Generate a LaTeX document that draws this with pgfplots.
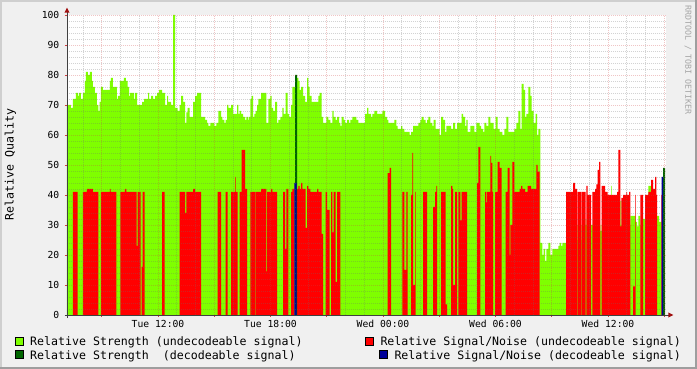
\documentclass[border=0pt]{standalone}
\usepackage{pgfplots}
\pgfplotsset{compat=1.18}
\usepackage{fontspec}
\setmainfont{DejaVu Sans Mono}
\definecolor{bg}{HTML}{F0F0F0}
\definecolor{shadea}{HTML}{CFCFCF}
\definecolor{shadeb}{HTML}{9E9E9E}
\definecolor{lgreen}{HTML}{7FFF00}
\definecolor{dgreen}{HTML}{006600}
\definecolor{dblue}{HTML}{000099}
\definecolor{axiscol}{HTML}{404040}
\definecolor{arrowcol}{HTML}{A01010}
\definecolor{mgridcol}{HTML}{D04040}
\definecolor{gridcol}{HTML}{707070}
\begin{document}
\begin{tikzpicture}
% canvas background
\fill[bg] (-67bp,-54bp) rectangle (630bp,315bp);
\fill[shadea] (-67bp,313bp) rectangle (630bp,315bp);
\fill[shadea] (-67bp,-54bp) rectangle (-65bp,315bp);
\fill[shadeb] (-67bp,-54bp) rectangle (630bp,-52bp);
\fill[shadeb] (628bp,-54bp) rectangle (630bp,315bp);
\fill[white] (0,0) rectangle (599bp,300bp);
\begin{axis}[
  scale only axis, width=599bp, height=300bp,
  at={(0,0)}, anchor=south west,
  xmin=0, xmax=599, ymin=0, ymax=100,
  axis line style={draw=none},
  axis on top,
  /pgf/number format/assume math mode=true,
  xtick={34.75,91,147.25,203.5,259.75,316,372.25,428.5,484.75,541,597.25},
  xticklabels={,Tue 12:00,,Tue 18:00,,Wed 00:00,,Wed 06:00,,Wed 12:00,},
  minor xtick={16,53.5,72.25,109.75,128.5,166,184.75,222.25,241,278.5,297.25,334.75,353.5,391,409.75,447.25,466,503.5,522.25,559.75,578.5},
  ytick={0,10,...,100},
  minor y tick num=4,
  grid=both,
  major grid style={draw=mgridcol, draw opacity=0.3, dash pattern=on 1bp off 1bp, line width=0.8bp},
  minor grid style={draw=gridcol, draw opacity=0.3, dash pattern=on 1bp off 1bp, line width=0.8bp},
  tick style={draw=mgridcol, line width=0.9bp},
  major tick length=2bp, minor tick length=0pt,
  tick align=outside, xtick pos=bottom, ytick pos=left,
  tick label style={font=\fontsize{9.7bp}{10bp}\selectfont, inner sep=0pt},
  yticklabel style={anchor=base east, xshift=-5.5bp, yshift=-3.5bp},
  xticklabel style={anchor=base, yshift=-10.5bp},
]
% Relative Strength (undecodeable signal)
\addplot[const plot, fill=lgreen, draw=none] table {
x y
0 70
4 69
6 72
9 74
11 73
12 74
14 72
16 74
18 78
19 81
21 80
23 81
25 78
26 76
28 74
30 70
31.3 68
32.7 71
34 76
36 75
43 78
44 79
46 76
50 72
51 73
53 78
57 79
59 78
60.7 76
62 73
63 74
67 72
68 74
70 70
75 71
77 72
81 74
82 72
84 73
86 72
88 73
90 74
92 75
95 74
98 70
100 73
101 71
104 70
106 100
108 69
110.7 68
112.7 70
114 73
116 71
118 64
119.3 67.5
120.7 69
122.7 66
126 71
128 73
130 74
134 66
138 65
140 64
141.3 63
143.3 64
147.3 63
149.3 64
151.3 68
154 66
155.3 65
157.3 64
158.7 65
160 70
161.3 69
164 70
166 67
170 70
171.3 67
172.7 68
174 67
176 66
178 65
179.3 66
181.3 65
182 66
183.3 72
184.7 73
186 66
187.3 67
188.7 68
190 70
191.3 72
194 74
199.3 64
201.3 72
203.3 73
204.7 69
206 68
208 71
210 64
211.3 65
213.3 66
215.3 69
216.7 67
218.7 74
220.7 67
222 66
224 70
225.3 76
228 0
230 79
231.3 78
232.7 75
234 76
236 73
238 71
240 79
241.3 76
242.7 73
244.7 71
251.3 73
252.7 74
254.7 66
256 64
259.3 66
261.3 65
263.3 64
265.3 68
266.7 66
268.7 65
270 66
272 64
273.3 63
274.7 66
276.7 65
278 64
280 65
282 64
283.3 65
285.3 66
289.3 65
291.3 64
298 67
300 69
301.3 67
304 66
305.3 67
307.3 68
310 67
315.3 68
318 66
320 65
321.3 64
327.3 65
329.3 63
330.7 62
334 63
335.3 62
337.3 61
342.7 60
344 61
346 63
351.3 64
353.3 65
354.7 66
356.7 65
358.7 64
360 65
361.3 66
363.3 64
365.3 63
366.7 65
368.7 62
372.7 60
374 66
376 65
378 61
379.3 63
384 62
386 64
388 62
390 64
394.7 67
396 66
398 63
399.3 65
400.7 61
403.3 63
407.3 61
409.3 64
412.7 63
414 62
416 61
417.3 64
419.3 63
421.3 66
423.3 64
426.7 62
428.7 66
430.7 62
432.7 61
435.3 60
437.3 62
439.3 66
441.3 61
447.3 62
449.3 64
451.3 68
453.3 62
454.7 77
456.7 75
458 66
459.3 67
461.3 76
463.3 73
464.7 68
466.7 64
468.7 67
470 60
471.3 62
473.3 24
475.3 20
476.7 22
478 18
479.3 22
481.3 24
483.3 20
485.3 22
491.3 23
492.7 24
494 23
495.3 24
499 30
510 25
510.7 30
514 25
514.7 30
518.7 32
519.3 30
533.3 28
534.7 30
544 43
544.7 30
553.3 38
554.3 30
563.3 33
568.7 31
570 29.5
571.3 33
573.3 30
576 32
578 30
581.3 43
584 30
590 33
592 31
594.7 0
598 0
} \closedcycle;
% Relative Signal/Noise (undecodeable signal)
\addplot[const plot, fill=red, draw=none] table {
x y
0 0
6 41
10.7 0
16 41
20 42
26 41
31.3 0
34 41
43 42
43.7 41
49.3 0
53.3 41
58 42
59.3 41
69.7 23
70.7 41
73.7 0
74.7 16
75.7 41
77.7 0
95 41
97.7 0
112.7 41
118 34
119.3 41
126 42
128 41
134 0
150.7 41
154 0
158.7 41
160.7 0
164 41
168 46
168.7 41
170.7 0
172.7 41
174.7 55
178 42
180 0
183.3 41
188 0
188.7 41
194 42
199.3 14.5
200 41
204 42
205.3 41
210 0
216 41
218 22
219.3 42
221.3 0
224 41
225.3 42
227.3 0
230 42
231.3 43
232.7 42
234 44
235.3 42
238.7 29
240 43
241.3 42
243.3 41
250 42
251.3 41
254.7 27
256 0
258.7 41
260 35
262.7 0
264 41
265.3 27.5
266.7 41
268.7 11
270 41
273.3 0
320.7 47.3
322.7 49
324 0
335.3 41
337.3 15
339.3 41
340.7 0
344 40
345.3 54
346 10
348 41
348.7 0
356 41
360 0
366 36
368 41
369.3 43
370 0
374 41
378.7 3.5
380 0
384 43
385.3 42
386 10
388 41
390 0
391.3 41
393.3 31.5
394.7 41
400 0
410 44
411.3 56
413.3 0
418 41
419.3 37.5
420 41
423.3 53
424 50.7
425.3 41
426 0
428 41
430.7 51
432.7 49
434.7 0
438.7 41
440.7 49
442.7 20
443.3 30
445.3 51
447.3 41
452.7 42
454 43
455.3 42
458 41
460.7 43
464 42
469.3 50
470.7 47.8
472.7 0
499 41
506 44
508 42
510 0
510.7 41
514 0
514.7 41
518.7 0
519.3 43
520.7 40
524 0
525.3 41
528 42
529.3 43.5
530.7 48.4
532 51
533.3 0
534.7 43
538 41
540.7 40
550 41
551.3 55
553.3 29.5
554.3 39
556 40
559.3 41
560 40
562 41
563.3 0
566 9.5
568 40
568.7 0
573.3 40
576 0
578 40
581.3 41
584 45
586 42
588 46
589.3 40
590 0
594 40
594.7 0
598 0
} \closedcycle;
% Relative Strength (decodeable signal)
\addplot[const plot, fill=dgreen, draw=none] table {
x y
0 0
228 80
230 0
596 49
598 49
} \closedcycle;
% Relative Signal/Noise (decodeable signal)
\addplot[const plot, fill=dblue, draw=none] table {
x y
0 0
227.3 44
229.7 0
594.7 46
596 0
598 0
} \closedcycle;
\end{axis}
% axis lines and arrows
\draw[axiscol, line width=1bp] (-2bp,0) -- (602bp,0);
\draw[axiscol, line width=1bp] (0,-3bp) -- (0,303bp);
\fill[arrowcol] (601.3bp,-2.5bp) -- (606.3bp,0) -- (601.3bp,2.5bp) -- cycle;
\fill[arrowcol] (-2.5bp,302.3bp) -- (0,307.3bp) -- (2.5bp,302.3bp) -- cycle;
% y label
\node[rotate=90, font=\fontsize{11.6bp}{12bp}\selectfont, inner sep=0pt] at (-56.5bp,150.5bp) {Relative Quality};
% watermark
\node[rotate=-90, font=\fontsize{8.3bp}{9bp}\selectfont, text=black!35, inner sep=0pt] at (621bp,255bp) {RRDTOOL / TOBI OETIKER};
% legend
\begin{scope}[every node/.style={font=\fontsize{11.6bp}{12bp}\selectfont, inner sep=0pt, anchor=base west}]
\filldraw[fill=lgreen, draw=black, line width=0.8bp] (-52bp,-30bp) rectangle (-44bp,-22bp);
\node at (-37bp,-30.3bp) {Relative Strength (undecodeable signal)};
\filldraw[fill=red, draw=black, line width=0.8bp] (298.3bp,-30bp) rectangle (306.3bp,-22bp);
\node at (313.3bp,-30.3bp) {Relative Signal/Noise (undecodeable signal)};
\filldraw[fill=dgreen, draw=black, line width=0.8bp] (-52bp,-43.7bp) rectangle (-44bp,-35.7bp);
\node at (-37bp,-44bp) {Relative Strength\ \ (decodeable signal)};
\filldraw[fill=dblue, draw=black, line width=0.8bp] (312.3bp,-43.7bp) rectangle (320.3bp,-35.7bp);
\node at (327.3bp,-44bp) {Relative Signal/Noise (decodeable signal)};
\end{scope}
\pgfresetboundingbox
\path (-67bp,-54bp) rectangle (630bp,315bp);
\end{tikzpicture}
\end{document}
